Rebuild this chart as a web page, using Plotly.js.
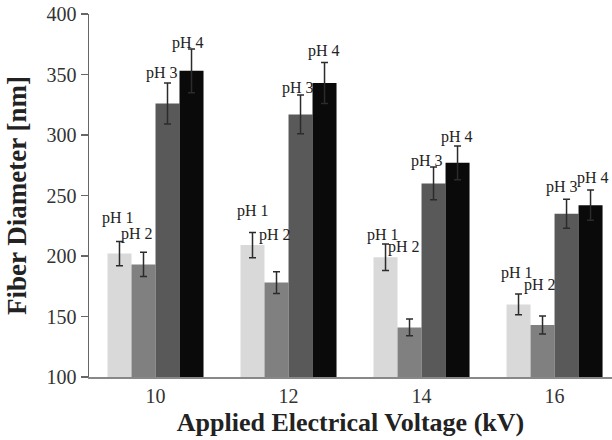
<!DOCTYPE html>
<html>
<head>
<meta charset="utf-8">
<script src="https://cdn.plot.ly/plotly-3.0.1.min.js"></script>
<style>html,body{margin:0;padding:0;background:#fff;}#chart{width:612px;height:440px;}</style>
</head>
<body>
<div id="chart"></div>
<script>
// ---- data ----
const voltages = ['10', '12', '14', '16'];
const seriesNames = ['pH 1', 'pH 2', 'pH 3', 'pH 4'];
const pH1 = [202, 209, 199, 160];
const pH2 = [193, 178, 141, 143];
const pH3 = [326, 317, 260, 235];
const pH4 = [353, 343, 277, 242];
const pH1err = [10, 10.5, 11, 8.5];
const pH2err = [10, 9, 7, 7.5];
const pH3err = [17, 16, 13.5, 12];
const pH4err = [18, 17, 14, 12.5];

// ---- styling ----
const values = [pH1, pH2, pH3, pH4];
const errs = [pH1err, pH2err, pH3err, pH4err];
const colors = ['#d9d9d9', '#808080', '#595959', '#0a0a0a'];
const serif = 'Liberation Serif, Times New Roman, serif';
// label pixel offsets (per series, per group)
const barOffsetPx = [-36, -12, 12, 36];
const labelDx = [[-2, 0, -2.5, -1.5], [-6.5, -1.5, -5.5, -3], [-6, -3, -7, -4.5], [-3.5, -1, -1, 2.5]];
const labelDy = [[23, 21, 9, 21], [18, 37, 72, 31], [10, 7, 6, 12], [6, 11, 9, 12]];

const traces = values.map((v, i) => ({
  type: 'bar',
  name: seriesNames[i],
  x: voltages,
  y: v,
  marker: {color: colors[i], line: {width: 0}},
  error_y: {type: 'data', array: errs[i], visible: true, color: '#2b2b2b', thickness: 1.5, width: 3.5},
  hoverinfo: 'none'
}));

const annotations = [];
values.forEach((v, i) => {
  v.forEach((val, j) => {
    annotations.push({
      x: j, y: val + errs[i][j], xref: 'x', yref: 'y',
      text: seriesNames[i], showarrow: false,
      xshift: barOffsetPx[i] + labelDx[i][j], yshift: labelDy[i][j],
      xanchor: 'center', yanchor: 'middle',
      font: {family: serif, size: 16, color: '#222'}
    });
  });
});

const layout = {
  width: 612, height: 440,
  margin: {l: 89, r: 0, t: 14, b: 63},
  paper_bgcolor: '#fff', plot_bgcolor: '#fff',
  showlegend: false,
  barmode: 'group', bargap: 0.278, bargroupgap: 0,
  xaxis: {
    type: 'category', range: [-0.5, 3.432],
    showline: true, linecolor: '#888', linewidth: 1.5,
    ticks: '', showgrid: false, zeroline: false,
    tickfont: {family: serif, size: 20, color: '#333'},
    title: {text: '<b>Applied Electrical Voltage (kV)</b>', font: {family: serif, size: 26, color: '#222'}, standoff: 7}
  },
  yaxis: {
    range: [100, 400], dtick: 50,
    showline: true, linecolor: '#666', linewidth: 1.5,
    ticks: 'outside', ticklen: 7, tickcolor: '#666', tickwidth: 1.5,
    showgrid: false, zeroline: false,
    tickfont: {family: serif, size: 20, color: '#333'},
    title: {text: '<b>Fiber Diameter [nm]</b>', font: {family: serif, size: 27, color: '#222'}, standoff: 12}
  },
  annotations: annotations
};

Plotly.newPlot('chart', traces, layout, {displayModeBar: false, staticPlot: true});
</script>
</body>
</html>
